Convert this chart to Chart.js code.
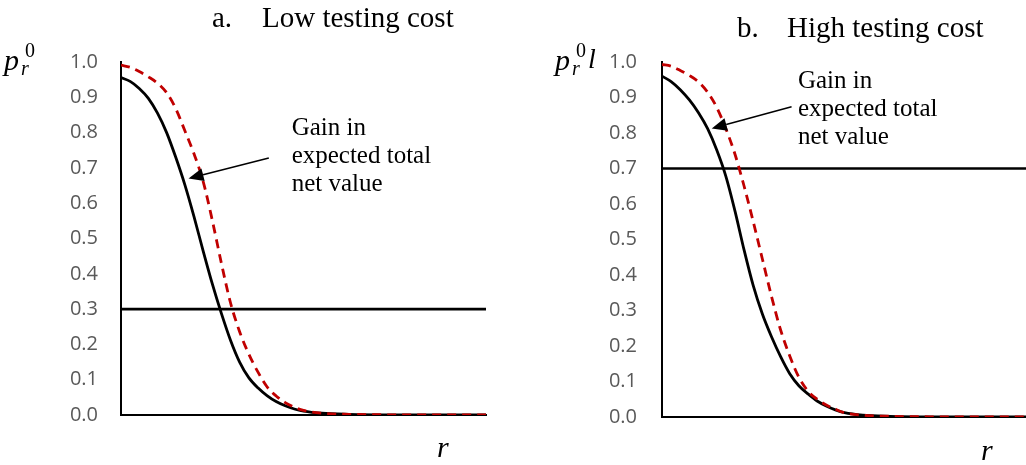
<!DOCTYPE html>
<html>
<head>
<meta charset="utf-8">
<script src="https://cdn.jsdelivr.net/npm/chart.js@4.4.1/dist/chart.umd.min.js"></script>
<style>
  html, body { margin: 0; padding: 0; background: #fff; overflow: hidden; }
  #wrap { position: relative; width: 1026px; height: 465px; overflow: hidden; }
  .box { position: absolute; top: 0; height: 465px; }
  #boxA { left: 0; width: 540px; }
  #boxB { left: 540px; width: 490px; }
</style>
</head>
<body>
<div id="wrap">
  <div class="box" id="boxA"><canvas id="chartA"></canvas></div>
  <div class="box" id="boxB"><canvas id="chartB"></canvas></div>
</div>
<script>
(function () {
  "use strict";

  // y ticks 0.0 .. 1.0
  var yTicks = [0, 0.1, 0.2, 0.3, 0.4, 0.5, 0.6, 0.7, 0.8, 0.9, 1.0];

  // r values shared by the curves (x axis runs 0..40, unlabeled)
  var rVals = [0, 1, 2, 3, 4, 5, 6, 7, 8, 9, 10, 11, 12, 13, 14, 15, 16, 17, 18, 19, 20, 22, 25, 30, 40];

  // a. Low testing cost
  var pLowSolid = [0.956, 0.945, 0.925, 0.897, 0.855, 0.800, 0.730, 0.652, 0.562, 0.465, 0.372, 0.288, 0.212, 0.150, 0.106, 0.077, 0.055, 0.038, 0.026, 0.017, 0.011, 0.005, 0.002, 0.0005, 0];
  var pLowDash = [0.991, 0.985, 0.973, 0.958, 0.940, 0.913, 0.868, 0.805, 0.740, 0.662, 0.552, 0.430, 0.318, 0.236, 0.173, 0.122, 0.080, 0.054, 0.035, 0.022, 0.013, 0.005, 0.002, 0.0005, 0];
  var rLowLine = [0, 40];
  var pLowLine = [0.3, 0.3];

  // b. High testing cost
  var pHighSolid = [0.96, 0.945, 0.922, 0.893, 0.857, 0.812, 0.752, 0.678, 0.580, 0.470, 0.370, 0.290, 0.226, 0.170, 0.122, 0.088, 0.065, 0.045, 0.031, 0.020, 0.012, 0.005, 0.002, 0.0005, 0];
  var pHighDash = [0.993, 0.988, 0.976, 0.962, 0.944, 0.915, 0.872, 0.812, 0.740, 0.650, 0.550, 0.445, 0.340, 0.245, 0.172, 0.112, 0.073, 0.050, 0.034, 0.022, 0.012, 0.005, 0.002, 0.0005, 0];
  var rHighLine = [0, 40];
  var pHighLine = [0.7, 0.7];

  var noteLines = ["Gain in", "expected total", "net value"];

  function pts(xs, ys) {
    return xs.map(function (x, i) { return { x: x, y: ys[i] }; });
  }

  var SERIF = "'Liberation Serif', 'Times New Roman', serif";

  var decor = {
    id: "decor",
    afterDatasetsDraw: function (chart, args, o) {
      var ctx = chart.ctx;
      var xs = chart.scales.x, ys = chart.scales.y;
      ctx.save();
      ctx.fillStyle = "#000";
      ctx.strokeStyle = "#000";
      ctx.textBaseline = "alphabetic";
      ctx.textAlign = "left";

      // panel title
      ctx.font = "29px " + SERIF;
      ctx.fillText(o.letter, o.titleX, o.titleY);
      ctx.fillText(o.title, o.titleX + 50, o.titleY);

      // y label p_r^0
      ctx.font = "italic 30px " + SERIF;
      ctx.fillText("p", o.pX, 70);
      ctx.font = "italic 20px " + SERIF;
      ctx.fillText("r", o.pX + 17, 75);
      ctx.font = "20px " + SERIF;
      ctx.fillText("0", o.pX + 21, 57);
      if (o.extra) {
        ctx.font = "italic 28px " + SERIF;
        ctx.fillText(o.extra, o.pX + 33, 68);
      }

      // x label r
      ctx.font = "italic 30px " + SERIF;
      ctx.fillText("r", o.rX, o.rY);

      // annotation text
      ctx.font = "25px " + SERIF;
      var tx = xs.getPixelForValue(o.noteAt[0]);
      var ty = ys.getPixelForValue(o.noteAt[1]);
      noteLines.forEach(function (s, i) {
        ctx.fillText(s, tx, ty + i * 28);
      });

      // arrow
      var x0 = xs.getPixelForValue(o.tail[0]), y0 = ys.getPixelForValue(o.tail[1]);
      var x1 = xs.getPixelForValue(o.tip[0]), y1 = ys.getPixelForValue(o.tip[1]);
      var ang = Math.atan2(y1 - y0, x1 - x0);
      var hl = 15, hw = 6.5;
      var bx = x1 - hl * Math.cos(ang), by = y1 - hl * Math.sin(ang);
      ctx.lineWidth = 1.5;
      ctx.beginPath();
      ctx.moveTo(x0, y0);
      ctx.lineTo(bx, by);
      ctx.stroke();
      ctx.beginPath();
      ctx.moveTo(x1, y1);
      ctx.lineTo(bx + hw * Math.sin(ang), by - hw * Math.cos(ang));
      ctx.lineTo(bx - hw * Math.sin(ang), by + hw * Math.cos(ang));
      ctx.closePath();
      ctx.fill();
      ctx.restore();
    }
  };

  function makeConfig(solid, dash, line, axisW, axisH, padRight, tickPad, deco) {
    return {
      type: "scatter",
      data: {
        datasets: [
          {
            label: "dashed",
            data: dash,
            showLine: true,
            borderColor: "#C00000",
            borderWidth: 2.8,
            borderDash: [9, 6],
            pointRadius: 0,
            cubicInterpolationMode: "monotone",
            order: 0
          },
          {
            label: "solid",
            data: solid,
            showLine: true,
            borderColor: "#000000",
            borderWidth: 2.8,
            pointRadius: 0,
            cubicInterpolationMode: "monotone",
            order: 1
          },
          {
            label: "threshold",
            data: line,
            showLine: true,
            borderColor: "#000000",
            borderWidth: 2.6,
            pointRadius: 0,
            order: 2
          }
        ]
      },
      options: {
        responsive: true,
        maintainAspectRatio: false,
        animation: false,
        layout: { padding: { top: 62, right: padRight, left: 0, bottom: 0 } },
        scales: {
          x: {
            type: "linear",
            min: 0,
            max: 40,
            ticks: { display: false },
            grid: { display: false, drawTicks: false },
            border: { display: true, color: "#000", width: 2 },
            afterFit: function (s) { s.height = axisH; }
          },
          y: {
            type: "linear",
            min: 0,
            max: 1,
            afterBuildTicks: function (s) {
              s.ticks = yTicks.map(function (v) { return { value: v }; });
            },
            ticks: {
              padding: tickPad,
              color: "#595959",
              font: { family: "'Open Sans', sans-serif", size: 20 },
              callback: function (v) { return Number(v).toFixed(1); }
            },
            grid: { display: false, drawTicks: false },
            border: { display: true, color: "#000", width: 2 },
            afterFit: function (s) { s.width = axisW; }
          }
        },
        plugins: {
          legend: { display: false },
          tooltip: { enabled: false },
          decor: deco
        }
      },
      plugins: [decor]
    };
  }

  new Chart(document.getElementById("chartA"), makeConfig(
    pts(rVals, pLowSolid),
    pts(rVals, pLowDash),
    pts(rLowLine, pLowLine),
    121, 50, 54, 23,
    {
      letter: "a.", title: "Low testing cost", titleX: 212, titleY: 27,
      pX: 4, extra: "", rX: 437, rY: 457,
      noteAt: [18.7, 0.793], tail: [16.2, 0.728], tip: [7.4, 0.67]
    }
  ));

  new Chart(document.getElementById("chartB"), makeConfig(
    pts(rVals, pHighSolid),
    pts(rVals, pHighDash),
    pts(rHighLine, pHighLine),
    122, 48, 3, 25,
    {
      letter: "b.", title: "High testing cost", titleX: 197, titleY: 37,
      pX: 15, extra: "l", rX: 441, rY: 460,
      noteAt: [14.9, 0.926], tail: [14.2, 0.874], tip: [5.45, 0.813]
    }
  ));
})();
</script>
</body>
</html>
